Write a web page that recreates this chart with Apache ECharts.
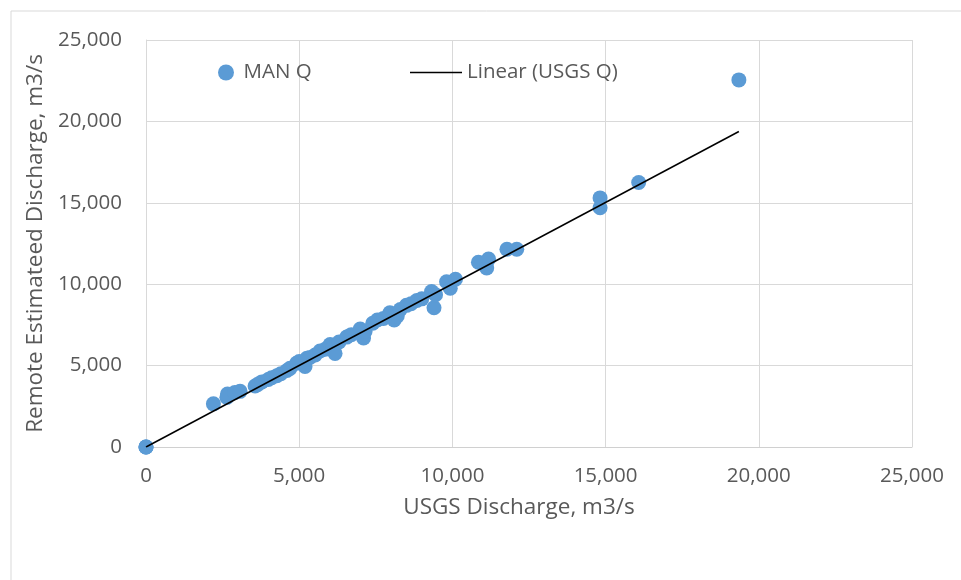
<!DOCTYPE html>
<html>
<head>
<meta charset="utf-8">
<script src="https://cdn.jsdelivr.net/npm/echarts@6/dist/echarts.min.js"></script>
<style>
  html, body { margin: 0; padding: 0; background: #fff; }
  #chart { width: 961px; height: 580px; }
</style>
</head>
<body>
<div id="chart"></div>
<script>
// USGS discharge (x) vs remote estimated discharge (y), m3/s
var usgsQ = [0, 0, 0, 2200, 2640, 2660, 2900, 3070, 3560, 3650, 3780, 3990, 4100, 4270, 4400,
  4600, 4700, 4920, 5000, 5190, 5250, 5350, 5520, 5680, 5850, 6010, 6100, 6170, 6300, 6550,
  6700, 6990, 7100, 7150, 7400, 7550, 7750, 7960, 8100, 8200, 8300, 8500, 8650, 8840, 9000,
  9320, 9400, 9450, 9810, 9930, 10100, 10850, 11120, 11180, 11780, 12100, 14820, 14820, 16080, 19350];
var manQ = [0, 0, 0, 2650, 3050, 3250, 3350, 3420, 3750, 3850, 4000, 4150, 4250, 4380, 4500,
  4700, 4830, 5150, 5250, 4950, 5450, 5500, 5650, 5900, 6000, 6300, 6100, 5750, 6450, 6750,
  6900, 7250, 6700, 7100, 7600, 7800, 7900, 8250, 7800, 8050, 8450, 8700, 8800, 9000, 9100,
  9550, 8550, 9350, 10150, 9750, 10300, 11350, 11000, 11550, 12150, 12150, 15300, 14700, 16250, 22550];
// trendline end points
var trendX = [0, 19350];
var trendY = [0, 19380];
var axisTicks = [0, 5000, 10000, 15000, 20000, 25000];

var scatterData = usgsQ.map(function (x, i) { return [x, manQ[i]]; });
var trendData = trendX.map(function (x, i) { return [x, trendY[i]]; });

var txt = '#595959';
var fontFam = '"Open Sans", sans-serif';
function fmt(v) { return v.toLocaleString('en-US'); }

var myChart = echarts.init(document.getElementById('chart'));
myChart.setOption({
  animation: false,
  textStyle: { fontFamily: fontFam, color: txt },
  graphic: [{
    type: 'rect',
    shape: { x: 11, y: 11, width: 980, height: 600 },
    style: { fill: 'none', stroke: '#d9d9d9', lineWidth: 1 },
    silent: true
  }],
  grid: { left: 146, right: 49, top: 40, bottom: 133 },
  legend: [{
    data: ['MAN Q'],
    left: 213,
    top: 57,
    icon: 'circle',
    itemWidth: 25,
    itemHeight: 16,
    textStyle: { fontSize: 20.5, color: txt, fontFamily: fontFam }
  }, {
    data: ['Linear (USGS Q)'],
    left: 405,
    top: 57,
    icon: 'rect',
    itemWidth: 52,
    itemHeight: 1.5,
    itemStyle: { color: '#000' },
    textStyle: { fontSize: 20.5, color: txt, fontFamily: fontFam }
  }],
  xAxis: {
    type: 'value',
    min: axisTicks[0],
    max: axisTicks[axisTicks.length - 1],
    interval: 5000,
    name: 'USGS Discharge, m3/s',
    nameLocation: 'middle',
    nameGap: 49,
    nameTextStyle: { fontSize: 22.5, color: txt, fontFamily: fontFam, padding: [0, 20, 0, 0] },
    axisLine: { show: true, lineStyle: { color: '#d0d0d0', width: 1 } },
    axisTick: { show: false },
    axisLabel: { fontSize: 20.5, color: txt, margin: 19, formatter: fmt },
    splitLine: { show: true, lineStyle: { color: '#d9d9d9', width: 1 } }
  },
  yAxis: {
    type: 'value',
    min: axisTicks[0],
    max: axisTicks[axisTicks.length - 1],
    interval: 5000,
    name: 'Remote Estimateed Discharge, m3/s',
    nameLocation: 'middle',
    nameGap: 95,
    nameTextStyle: { fontSize: 22.5, color: txt, fontFamily: fontFam },
    axisLine: { show: true, lineStyle: { color: '#d9d9d9', width: 1 } },
    axisTick: { show: false },
    axisLabel: { fontSize: 20.5, color: txt, margin: 24, formatter: fmt },
    splitLine: { show: true, lineStyle: { color: '#d9d9d9', width: 1 } }
  },
  series: [{
    name: 'MAN Q',
    type: 'scatter',
    data: scatterData,
    symbolSize: 15,
    itemStyle: { color: '#5b9bd5', opacity: 1 },
    z: 2
  }, {
    name: 'Linear (USGS Q)',
    type: 'line',
    data: trendData,
    symbol: 'none',
    lineStyle: { color: '#000', width: 1.5 },
    itemStyle: { color: '#000' },
    z: 3
  }]
});
</script>
</body>
</html>
